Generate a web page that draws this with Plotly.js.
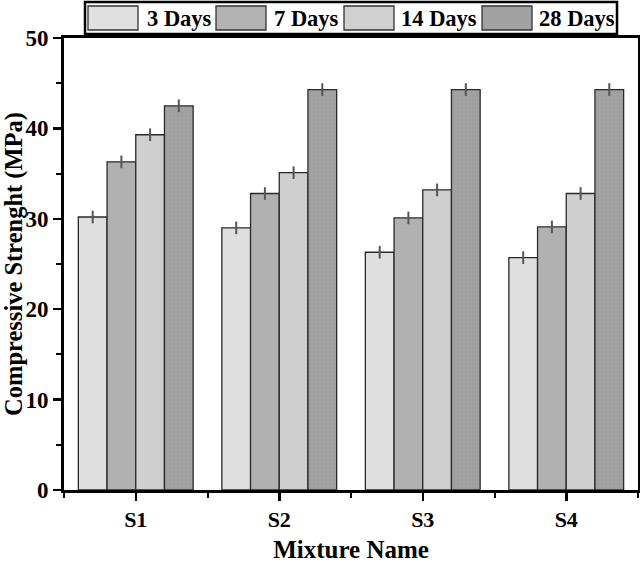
<!DOCTYPE html>
<html>
<head>
<meta charset="utf-8">
<script src="https://cdn.plot.ly/plotly-3.0.1.min.js"></script>
<style>html,body{margin:0;padding:0;background:#fff;}#chart{width:640px;height:563px;}</style>
</head>
<body>
<div id="chart"></div>
<script>
var categories = ["S1", "S2", "S3", "S4"];
var seriesNames = ["3 Days", "7 Days", "14 Days", "28 Days"];
var days3 = [30.2, 29.0, 26.3, 25.7];
var days7 = [36.3, 32.8, 30.1, 29.1];
var days14 = [39.3, 35.1, 33.2, 32.8];
var days28 = [42.5, 44.3, 44.3, 44.3];
var errors = [0.7, 0.7, 0.7, 0.7];
var yTicks = [0, 10, 20, 30, 40, 50];

var seriesValues = [days3, days7, days14, days28];
var fills = ["#e0e0e0", "#b2b2b2", "#d0d0d0", "#a2a2a2"];
var patFg = ["#c4c4c4", "#999999", "#b0b0b0", "#7a7a7a"];
var font = "Liberation Serif, Times New Roman, serif";

var xIdx = categories.map(function (c, i) { return i; });
var traces = seriesValues.map(function (vals, k) {
  return {
    type: "bar",
    name: seriesNames[k],
    x: xIdx,
    y: vals,
    showlegend: false,
    marker: {
      color: fills[k],
      line: { color: "#2a2a2a", width: 1.3 },
      pattern: { shape: "+", size: 4, solidity: 0.12, fgcolor: patFg[k], fgopacity: 0.35, fillmode: "overlay" }
    },
    error_y: { type: "data", array: errors, visible: true, color: "#555555", thickness: 2, width: 0 }
  };
});

// custom legend built from series names/colours
var L = 64, W = 574, T = 38, H = 452;
function px(x) { return (x - L) / W; }
function py(y) { return (T + H - y) / H; }
var shapes = [{
  type: "rect", xref: "paper", yref: "paper",
  x0: px(85), x1: px(617), y0: py(34), y1: py(2),
  line: { color: "#000", width: 2.5 }, fillcolor: "#fff"
}];
var annotations = [];
var swatchX = [88, 216, 344, 482];
var textX = [145, 272, 399, 537];
seriesNames.forEach(function (n, k) {
  shapes.push({
    type: "rect", xref: "paper", yref: "paper",
    x0: px(swatchX[k]), x1: px(swatchX[k] + 50), y0: py(30), y1: py(6),
    line: { color: "#333", width: 1.3 }, fillcolor: fills[k]
  });
  annotations.push({
    xref: "paper", yref: "paper", x: px(textX[k]), y: py(18.5),
    xanchor: "left", yanchor: "middle", showarrow: false, text: "<b>" + n + "</b>",
    font: { family: font, size: 22.5, color: "#000" }
  });
});

var layout = {
  width: 640, height: 563,
  margin: { l: 64, r: 2, t: 38, b: 73 },
  paper_bgcolor: "#fff", plot_bgcolor: "#fff",
  barmode: "group", bargap: 0.2, bargroupgap: 0,
  font: { family: font, color: "#000" },
  xaxis: {
    range: [-0.5, 3.5],
    tickmode: "array", tickvals: xIdx, ticktext: categories.map(function (c) { return "<b>" + c + "</b>"; }),
    tickfont: { family: font, size: 22, color: "#000" },
    ticks: "outside", ticklen: 8, tickwidth: 2.5, tickcolor: "#000",
    minor: { tick0: 0.5, dtick: 1, ticks: "outside", ticklen: 5, tickwidth: 2, tickcolor: "#000" },
    showline: true, linecolor: "#000", linewidth: 3, mirror: true,
    showgrid: false, zeroline: false,
    title: { text: "<b>Mixture Name</b>", font: { family: font, size: 25, color: "#000" }, standoff: 25 }
  },
  yaxis: {
    range: [0, 50],
    tickmode: "array", tickvals: yTicks, ticktext: yTicks.map(function (t) { return "<b>" + t + "</b>"; }),
    tickfont: { family: font, size: 23, color: "#000" },
    ticks: "outside", ticklen: 8, tickwidth: 2.5, tickcolor: "#000",
    minor: { tick0: 5, dtick: 10, ticks: "outside", ticklen: 5, tickwidth: 2, tickcolor: "#000" },
    showline: true, linecolor: "#000", linewidth: 3, mirror: true,
    showgrid: false, zeroline: false,
    title: { text: "<b>Compressive Strenght (MPa)</b>", font: { family: font, size: 24.5, color: "#000" }, standoff: 6 }
  },
  shapes: shapes,
  annotations: annotations
};

Plotly.newPlot("chart", traces, layout, { displayModeBar: false, staticPlot: true });
</script>
</body>
</html>
